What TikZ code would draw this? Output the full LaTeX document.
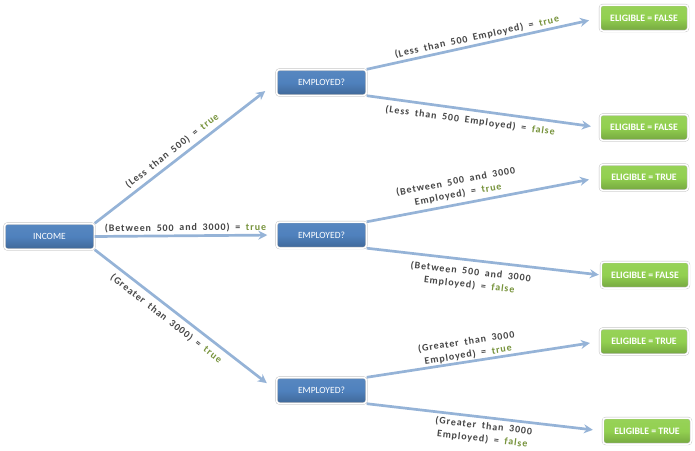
\documentclass[tikz,border=0pt]{standalone}
\usepackage{fontspec}
\setmainfont{Carlito}
\newfontfamily\lblfont[LetterSpace=9,WordSpace=1.8]{Carlito}
\usetikzlibrary{arrows.meta,shadows}
\definecolor{boxblue}{RGB}{79,129,189}
\definecolor{boxgreen}{RGB}{146,208,80}
\definecolor{arrowblue}{RGB}{149,179,215}
\definecolor{truegreen}{RGB}{119,147,60}
\definecolor{lblgrey}{RGB}{70,70,70}
\newcommand\yes{\textcolor{truegreen}{true}}
\newcommand\no{\textcolor{truegreen}{false}}

\begin{document}
\begin{tikzpicture}[x=1pt,y=-1pt]
    \tikzset{%
      ibox/.style={rectangle, rounded corners=3pt,
        top color=boxblue!95!white, bottom color=boxblue!80!black,
        middle color=boxblue,
        draw=black!25, double=white, double distance=1.5pt, line width=0.4pt,
        minimum width=90pt, minimum height=26pt, text=white,
        font=\fontsize{9.5}{11}\selectfont,
        drop shadow={shadow xshift=0.6pt, shadow yshift=-0.8pt, opacity=0.3}},
      gbox/.style={ibox, top color=boxgreen!95!white,
        bottom color=boxgreen!80!black, middle color=boxgreen,
        minimum width=88pt, font=\fontsize{9.8}{11}\selectfont\bfseries},
      link/.style={arrowblue, line width=2.7pt,
        -{Stealth[length=9pt, width=9pt, inset=3pt]}},
      lbl/.style={sloped, inner sep=1pt, align=center, text=lblgrey,
        font=\lblfont\fontsize{10}{13}\selectfont\bfseries},
    }
    \useasboundingbox (0,0) rectangle (695,450);

    % income and the three questions
    \node[ibox] (inc) at (49.5,236.5) {INCOME};
    \node[ibox] (emp1) at (321.5,82.5) {EMPLOYED?};
    \node[ibox] (emp2) at (321.5,235) {EMPLOYED?};
    \node[ibox] (emp3) at (321.5,390.5) {EMPLOYED?};

    % outcomes
    \node[gbox] (el1) at (644,18) {ELIGIBLE = FALSE};
    \node[gbox] (el2) at (644,127.5) {ELIGIBLE = FALSE};
    \node[gbox] (el3) at (644,177.5) {ELIGIBLE = TRUE};
    \node[gbox] (el4) at (645,275) {ELIGIBLE = FALSE};
    \node[gbox] (el5) at (644,341.5) {ELIGIBLE = TRUE};
    \node[gbox] (el6) at (647,431) {ELIGIBLE = TRUE};

    \draw[link, shorten >=14pt] (inc.north east) -- (emp1.west)
      node[lbl, above=3pt, pos=.46] (l1) {(Less than 500) = \yes};
    \draw[link, shorten >=9pt] (inc.east) -- (emp2.west)
      node[lbl, above=1pt, pos=.5] (l2) {(Between 500 and 3000) = \yes};
    \draw[link, shorten >=12pt] (inc.south east) -- (emp3.west)
      node[lbl, below=4pt, pos=.43] (l3) {(Greater than 3000) = \yes};

    \draw[link, shorten >=11pt] (emp1.north east) -- (el1.west)
      node[lbl, above=1pt, pos=.48] (l11) {(Less than 500 Employed) = \yes};
    \draw[link, shorten >=9pt] (emp1.south east) -- (el2.west)
      node[lbl, below=4pt, pos=.45] (l12) {(Less than 500 Employed) = \no};

    \draw[link, shorten >=11pt] (emp2.north east) -- (el3.west)
      node[lbl, above=3pt, pos=.4] (l21) {(Between 500 and 3000\\Employed) = \yes};
    \draw[link, shorten >=2pt] (emp2.south east) -- (el4.west)
      node[lbl, below=5pt, pos=.45] (l22) {(Between 500 and 3000\\Employed) = \no};

    \draw[link, shorten >=10pt] (emp3.north east) -- (el5.west)
      node[lbl, above=0pt, pos=.44] (l31) {(Greater than 3000\\Employed) = \yes};
    \draw[link, shorten >=10pt] (emp3.south east) -- (el6.west)
      node[lbl, below=2pt, pos=.5] (l32) {(Greater than 3000\\Employed) = \no};
  \end{tikzpicture}
\end{document}
